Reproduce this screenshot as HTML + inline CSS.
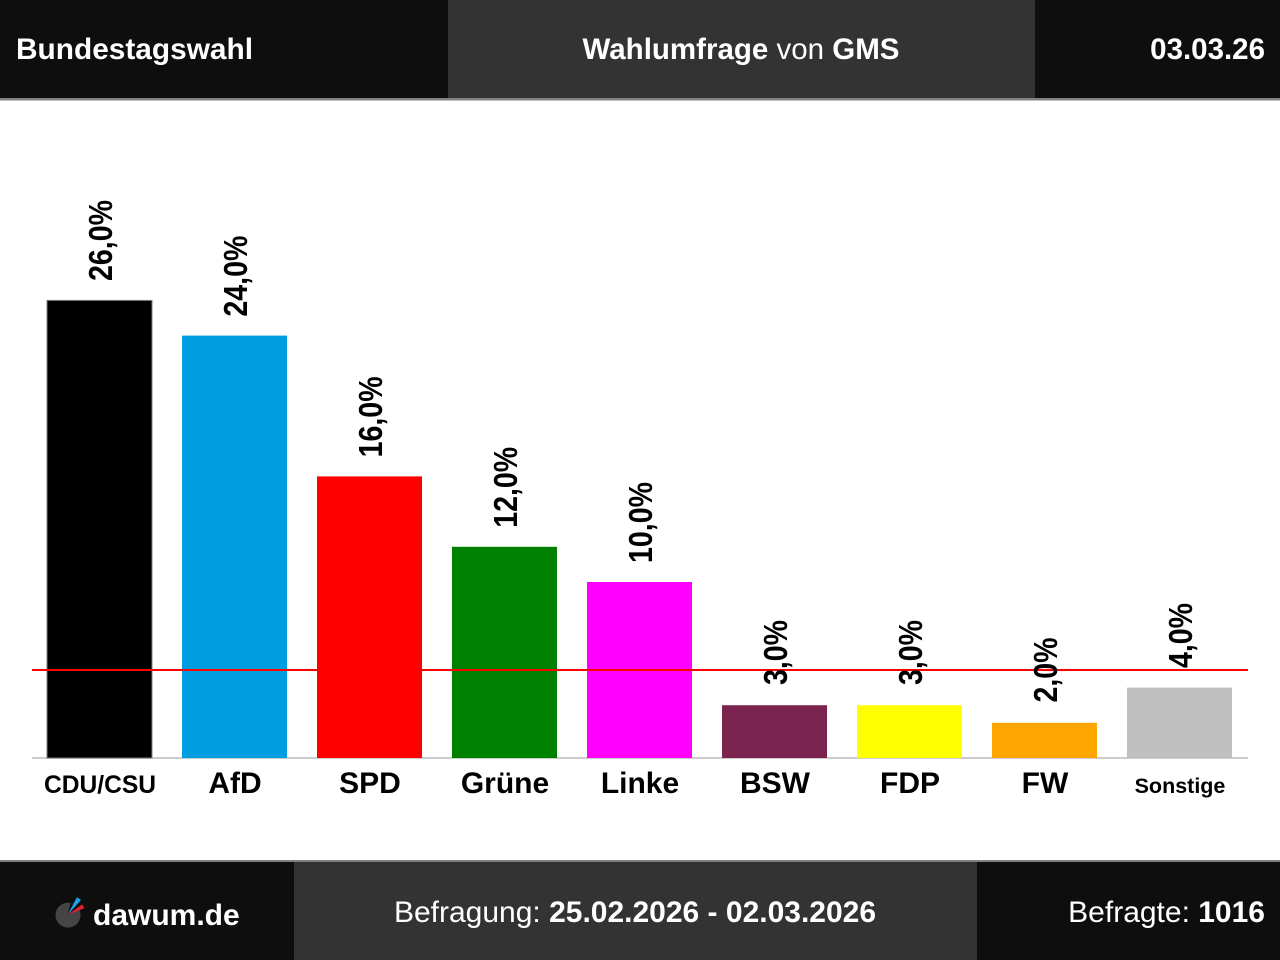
<!DOCTYPE html>
<html>
<head>
<meta charset="utf-8">
<style>
html,body{margin:0;padding:0;background:#fff;}
svg{display:block;}
text{font-family:"Liberation Sans",Arial,sans-serif;}
</style>
</head>
<body>
<svg width="1280" height="960" viewBox="0 0 1280 960" xmlns="http://www.w3.org/2000/svg">
  <!-- Header -->
  <rect x="0" y="0" width="1280" height="98" fill="#0e0e0e"/>
  <rect x="448" y="0" width="587" height="98" fill="#333333"/>
  <rect x="0" y="98" width="1280" height="2.5" fill="#808080"/>
  <text x="16" y="59" font-size="29.5" font-weight="bold" fill="#fff" textLength="237" lengthAdjust="spacingAndGlyphs">Bundestagswahl</text>
  <text x="741" y="59" font-size="29.5" fill="#fff" text-anchor="middle"><tspan font-weight="bold">Wahlumfrage</tspan> von <tspan font-weight="bold">GMS</tspan></text>
  <text x="1265" y="59" font-size="29.5" font-weight="bold" fill="#fff" text-anchor="end">03.03.26</text>

  <!-- Chart lines -->
  <rect x="32" y="757" width="1216" height="2" fill="#cccccc"/>

  <!-- Bars -->
  <rect x="47" y="300.4" width="105" height="457.6" fill="#000000" stroke="#808080" stroke-width="1"/>
  <rect x="182" y="335.6" width="105" height="422.4" fill="#009ee0"/>
  <rect x="317" y="476.4" width="105" height="281.6" fill="#ff0000"/>
  <rect x="452" y="546.8" width="105" height="211.2" fill="#008000"/>
  <rect x="587" y="582" width="105" height="176" fill="#ff00ff"/>
  <rect x="722" y="705.2" width="105" height="52.8" fill="#7a244f"/>
  <rect x="857" y="705.2" width="105" height="52.8" fill="#ffff00"/>
  <rect x="992" y="722.8" width="105" height="35.2" fill="#ffa500"/>
  <rect x="1127" y="687.6" width="105" height="70.4" fill="#bfbfbf"/>

  <!-- 5% line -->
  <rect x="32" y="669" width="1216" height="2" fill="#ff0000"/>

  <!-- Value labels -->
  <g font-size="33" font-weight="bold" fill="#000">
    <text transform="translate(112,281) rotate(-90)" textLength="81" lengthAdjust="spacingAndGlyphs">26,0%</text>
    <text transform="translate(247,316.6) rotate(-90)" textLength="81" lengthAdjust="spacingAndGlyphs">24,0%</text>
    <text transform="translate(382,457.4) rotate(-90)" textLength="81" lengthAdjust="spacingAndGlyphs">16,0%</text>
    <text transform="translate(517,527.8) rotate(-90)" textLength="81" lengthAdjust="spacingAndGlyphs">12,0%</text>
    <text transform="translate(652,563) rotate(-90)" textLength="81" lengthAdjust="spacingAndGlyphs">10,0%</text>
    <text transform="translate(787,685) rotate(-90)" textLength="65" lengthAdjust="spacingAndGlyphs">3,0%</text>
    <text transform="translate(922,685) rotate(-90)" textLength="65" lengthAdjust="spacingAndGlyphs">3,0%</text>
    <text transform="translate(1057,702.5) rotate(-90)" textLength="65" lengthAdjust="spacingAndGlyphs">2,0%</text>
    <text transform="translate(1192,668) rotate(-90)" textLength="65" lengthAdjust="spacingAndGlyphs">4,0%</text>
  </g>

  <!-- Category labels -->
  <g font-weight="bold" fill="#000" text-anchor="middle">
    <text x="100" y="793" font-size="24.6">CDU/CSU</text>
    <text x="235" y="793" font-size="30">AfD</text>
    <text x="370" y="793" font-size="30">SPD</text>
    <text x="505" y="793" font-size="30">Grüne</text>
    <text x="640" y="793" font-size="30">Linke</text>
    <text x="775" y="793" font-size="30">BSW</text>
    <text x="910" y="793" font-size="30">FDP</text>
    <text x="1045" y="793" font-size="30">FW</text>
    <text x="1180" y="793" font-size="21.5">Sonstige</text>
  </g>

  <!-- Footer -->
  <rect x="0" y="860" width="1280" height="2.5" fill="#808080"/>
  <rect x="0" y="862" width="1280" height="98" fill="#0e0e0e"/>
  <rect x="294" y="862" width="683" height="98" fill="#333333"/>

  <!-- Logo -->
  <g transform="translate(67.5,915)">
    <path d="M0,0 L11.3,-6.25 A12.5,12.5 0 1 1 3.2,-12.1 Z" fill="#454545"/>
    <path d="M0,0 L9.4,-17.7 A20,20 0 0 1 13.4,-14.9 Z" fill="#1aa3e8"/>
    <path d="M0,0 L14.6,-10.6 A18,18 0 0 1 16.7,-6.7 Z" fill="#e8202a"/>
  </g>
  <text x="93" y="925" font-size="30" font-weight="bold" fill="#fff">dawum.de</text>

  <text x="635" y="922" font-size="30" fill="#fff" text-anchor="middle">Befragung: <tspan font-weight="bold">25.02.2026 - 02.03.2026</tspan></text>
  <text x="1265" y="922" font-size="30" fill="#fff" text-anchor="end">Befragte: <tspan font-weight="bold">1016</tspan></text>
</svg>
</body>
</html>
